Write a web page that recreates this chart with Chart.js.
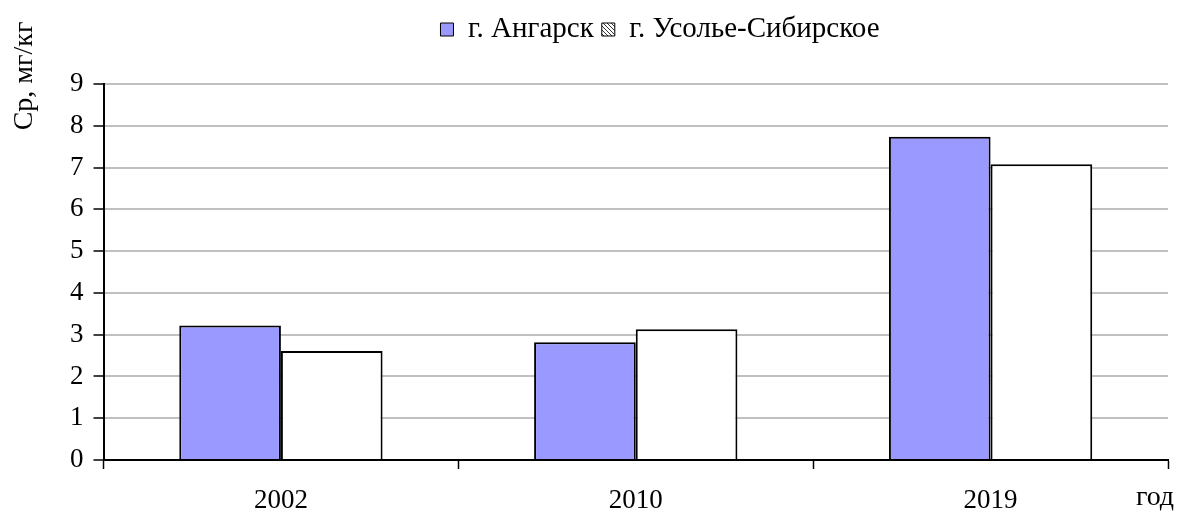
<!DOCTYPE html>
<html>
<head>
<meta charset="utf-8">
<script src="https://cdn.jsdelivr.net/npm/chart.js@4/dist/chart.umd.min.js"></script>
<style>
  body { margin: 0; background: #fff; }
  canvas { display: block; }
</style>
</head>
<body>
<canvas id="grafico" width="1182" height="516"></canvas>
<script>
const anios = ['2002', '2010', '2019'];
const angarsk = [3.22, 2.82, 7.74];
const usolye = [2.61, 3.13, 7.08];
const nombres = ['г. Ангарск', 'г. Усолье-Сибирское'];
const ticksY = [0, 1, 2, 3, 4, 5, 6, 7, 8, 9];

const fuente = '"Liberation Serif", "Times New Roman", serif';

/* patron rayado solo para la leyenda */
function crearRayado() {
  const c = document.createElement('canvas');
  c.width = 4; c.height = 4;
  const g = c.getContext('2d');
  g.fillStyle = '#fff';
  g.fillRect(0, 0, 4, 4);
  g.strokeStyle = '#333';
  g.lineWidth = 1;
  g.beginPath();
  g.moveTo(0, 0); g.lineTo(4, 4);
  g.moveTo(-1, 3); g.lineTo(1, 5);
  g.moveTo(3, -1); g.lineTo(5, 1);
  g.stroke();
  return g.createPattern(c, 'repeat');
}

/* mas espacio debajo de la leyenda y leyenda algo a la derecha */
const espacioLeyenda = {
  id: 'espacioLeyenda',
  beforeInit(chart) {
    const fitOriginal = chart.legend.fit;
    chart.legend.fit = function () {
      fitOriginal.bind(chart.legend)();
      this.height += 30;
    };
  },
  afterLayout(chart) {
    chart.legend.left += 46;
    chart.legend.right += 46;
  }
};

const textosEjes = {
  id: 'textosEjes',
  afterDraw(chart) {
    const ctx = chart.ctx;
    ctx.save();
    ctx.fillStyle = '#000';
    ctx.font = '28px ' + fuente;
    ctx.textAlign = 'center';
    ctx.textBaseline = 'alphabetic';
    ctx.fillText('год', 1155, 505);
    ctx.translate(32, 76);
    ctx.rotate(-Math.PI / 2);
    ctx.fillText('Ср, мг/кг', 0, 0);
    ctx.restore();
  }
};

const ctx = document.getElementById('grafico').getContext('2d');
const rayado = crearRayado();

new Chart(ctx, {
  type: 'bar',
  data: {
    labels: anios,
    datasets: [{
      label: nombres[0],
      data: angarsk,
      backgroundColor: '#9999ff',
      borderColor: '#000',
      borderWidth: 2,
      borderSkipped: 'bottom'
    }, {
      label: nombres[1],
      data: usolye,
      backgroundColor: '#ffffff',
      borderColor: '#000',
      borderWidth: 2,
      borderSkipped: 'bottom'
    }]
  },
  options: {
    responsive: false,
    animation: false,
    devicePixelRatio: 1,
    layout: { padding: { left: 60, right: 14, top: 7, bottom: 0 } },
    datasets: {
      bar: { barPercentage: 1, categoryPercentage: 0.573 }
    },
    plugins: {
      tooltip: { enabled: false },
      legend: {
        position: 'top',
        labels: {
          color: '#000',
          font: { family: fuente, size: 29 },
          boxWidth: 13,
          boxHeight: 13,
          padding: 8,
          generateLabels(chart) {
            return chart.data.datasets.map((ds, i) => ({
              text: ds.label,
              fillStyle: i === 1 ? rayado : ds.backgroundColor,
              strokeStyle: '#000',
              lineWidth: 1,
              fontColor: '#000',
              datasetIndex: i
            }));
          }
        }
      }
    },
    scales: {
      x: {
        afterFit(scale) {
          scale.height = 56;
        },
        grid: {
          offset: true,
          drawOnChartArea: false,
          drawTicks: true,
          tickLength: 9,
          tickColor: '#000',
          tickWidth: 1.5
        },
        border: { color: '#000', width: 2 },
        ticks: {
          color: '#000',
          font: { family: fuente, size: 27 },
          padding: 16
        }
      },
      y: {
        min: 0,
        max: 9,
        afterBuildTicks(axis) {
          axis.ticks = ticksY.map(v => ({ value: v }));
        },
        grid: {
          color: '#c0c0c0',
          lineWidth: 2,
          tickColor: '#000',
          tickLength: 10,
          tickWidth: 1.5
        },
        border: { color: '#000', width: 2 },
        ticks: {
          color: '#000',
          font: { family: fuente, size: 27 },
          padding: 10
        }
      }
    }
  },
  plugins: [espacioLeyenda, textosEjes]
});
</script>
</body>
</html>
